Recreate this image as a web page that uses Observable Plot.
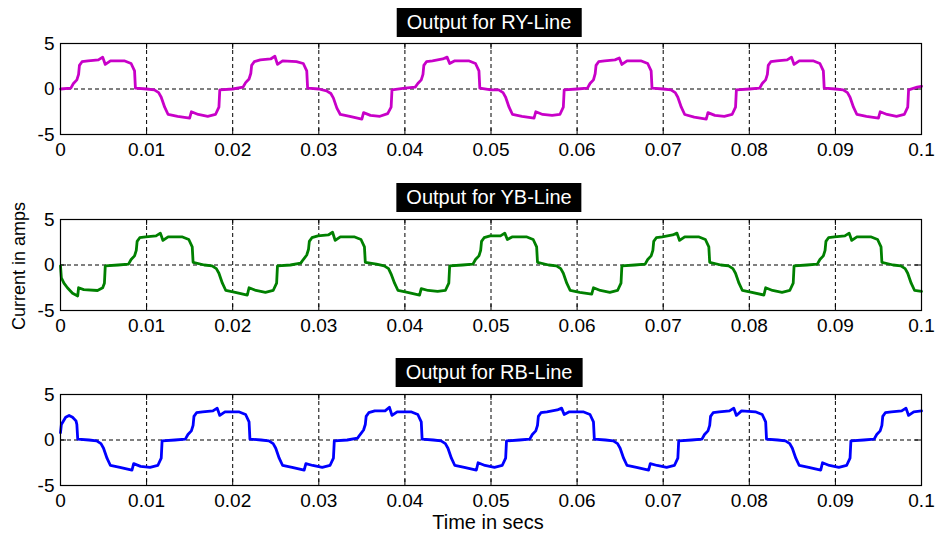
<!DOCTYPE html>
<html>
<head>
<meta charset="utf-8">
<script src="https://cdn.jsdelivr.net/npm/d3@7"></script>
<script src="https://cdn.jsdelivr.net/npm/@observablehq/plot@0.6"></script>
<style>
  html, body { margin: 0; padding: 0; background: #fff; }
  #root { position: relative; width: 936px; height: 536px; overflow: hidden; font-family: "Liberation Sans", Arial, sans-serif; }
  .panel { position: absolute; left: 0; }
  .ttl { position: absolute; background: #000; color: #fff; font-size: 20px; height: 29px; line-height: 29px; padding: 0 10px; transform: translateX(-50%); white-space: nowrap; }
  .xlab { position: absolute; font-size: 20px; transform: translateX(-50%); white-space: nowrap; color: #000; }
  .ylab { position: absolute; font-size: 18px; white-space: nowrap; color: #000; transform: translate(-50%, -50%) rotate(-90deg); }
</style>
</head>
<body>
<div id="root"></div>
<script>
// ---- data (time in s, current in A) ----
const titles = ["Output for RY-Line", "Output for YB-Line", "Output for RB-Line"];
const colors = ["#c800c8", "#008000", "#0000ff"];
const xTicks = [0, 0.01, 0.02, 0.03, 0.04, 0.05, 0.06, 0.07, 0.08, 0.09, 0.1];
const xTickLabels = ["0", "0.01", "0.02", "0.03", "0.04", "0.05", "0.06", "0.07", "0.08", "0.09", "0.1"];
const yTicks = [-5, 0, 5];
const yTickLabels = ["-5", "0", "5"];
const yLabel = "Current in amps";
const xLabel = "Time in secs";

const ryLine = [
[0,0],[0.0012,0.1],[0.0015,0.6],[0.0019,1.0],[0.0021,1.6],[0.0022,2.6],[0.0025,3.0],[0.0032,3.1],[0.0044,3.2],[0.0049,3.5],[0.0052,2.7],[0.0058,3.1],[0.0074,3.1],[0.0082,2.8],[0.0086,2.0],[0.0087,0.1],[0.0100,0.0],[0.0109,-0.1],[0.0114,-0.4],[0.0117,-0.9],[0.0121,-2.0],[0.0125,-2.8],[0.0136,-3.0],[0.0150,-3.2],[0.0152,-2.5],[0.0160,-2.8],[0.0171,-3.0],[0.0180,-2.8],[0.0184,-2.0],[0.0185,-0.1],
[0.0200,0.0],[0.0212,0.2],[0.0215,0.7],[0.0219,1.1],[0.0221,1.7],[0.0222,2.6],[0.0225,3.0],[0.0232,3.2],[0.0244,3.3],[0.0249,3.6],[0.0252,2.7],[0.0258,3.1],[0.0274,3.0],[0.0282,2.8],[0.0286,2.0],[0.0287,0.1],[0.0300,0.0],[0.0309,-0.2],[0.0314,-0.5],[0.0317,-1.0],[0.0321,-2.1],[0.0325,-2.8],[0.0336,-3.0],[0.0350,-3.3],[0.0352,-2.6],[0.0360,-2.9],[0.0371,-3.0],[0.0380,-2.7],[0.0384,-2.0],[0.0385,-0.1],
[0.0400,0.1],[0.0412,0.2],[0.0415,0.6],[0.0419,1.0],[0.0421,1.6],[0.0422,2.6],[0.0425,3.0],[0.0432,3.1],[0.0444,3.3],[0.0449,3.5],[0.0452,2.8],[0.0458,3.1],[0.0474,3.1],[0.0482,2.8],[0.0486,2.0],[0.0487,0.1],[0.0500,-0.1],[0.0509,-0.1],[0.0514,-0.4],[0.0517,-0.9],[0.0521,-2.0],[0.0525,-2.8],[0.0536,-3.0],[0.0550,-3.2],[0.0552,-2.5],[0.0560,-2.8],[0.0571,-2.9],[0.0580,-2.8],[0.0584,-2.0],[0.0585,-0.1],
[0.0600,0.0],[0.0612,0.1],[0.0615,0.6],[0.0619,1.0],[0.0621,1.7],[0.0622,2.6],[0.0625,3.0],[0.0632,3.1],[0.0644,3.2],[0.0649,3.4],[0.0652,2.7],[0.0658,3.1],[0.0674,3.1],[0.0682,2.8],[0.0686,2.0],[0.0687,0.1],[0.0700,0.0],[0.0709,-0.1],[0.0714,-0.4],[0.0717,-0.9],[0.0721,-2.0],[0.0725,-2.8],[0.0736,-3.1],[0.0750,-3.3],[0.0752,-2.6],[0.0760,-2.9],[0.0771,-3.0],[0.0780,-2.8],[0.0784,-2.0],[0.0785,-0.1],
[0.0800,0.0],[0.0812,0.1],[0.0815,0.6],[0.0819,1.0],[0.0821,1.6],[0.0822,2.6],[0.0825,3.0],[0.0832,3.1],[0.0844,3.2],[0.0849,3.5],[0.0852,2.7],[0.0858,3.1],[0.0874,3.1],[0.0882,2.8],[0.0886,2.0],[0.0887,0.1],[0.0900,0.0],[0.0909,-0.1],[0.0914,-0.4],[0.0917,-0.9],[0.0921,-2.0],[0.0925,-2.8],[0.0936,-3.0],[0.0950,-3.2],[0.0952,-2.5],[0.0960,-2.8],[0.0971,-3.0],[0.0980,-2.8],[0.0984,-2.0],[0.0985,-0.1],[0.0995,0.2],[0.1000,0.3]
];

const ybLine = [
[0,-0.1],[0.0001,-1.4],[0.0004,-2.0],[0.0008,-2.5],[0.0014,-3.1],[0.0020,-3.4],[0.0021,-2.5],[0.0027,-2.7],[0.0043,-2.8],[0.0049,-2.5],[0.0051,-2.0],[0.0052,-0.1],[0.0067,0.0],[0.0079,0.1],[0.0082,0.6],[0.0086,1.0],[0.0088,1.6],[0.0089,2.6],[0.0092,3.0],[0.0099,3.1],[0.0111,3.2],[0.0116,3.5],[0.0119,2.7],[0.0125,3.1],[0.0141,3.1],[0.0149,2.8],[0.0153,2.0],[0.0154,0.3],[0.0167,0.0],[0.0176,-0.1],[0.0181,-0.4],[0.0184,-0.9],[0.0188,-2.0],[0.0192,-2.8],
[0.0203,-3.0],[0.0217,-3.3],[0.0219,-2.5],[0.0227,-2.8],[0.0238,-3.0],[0.0247,-2.8],[0.0251,-2.0],[0.0252,-0.1],[0.0267,0.0],[0.0279,0.2],[0.0282,0.6],[0.0286,1.1],[0.0288,1.7],[0.0289,2.6],[0.0292,3.0],[0.0299,3.2],[0.0311,3.3],[0.0316,3.6],[0.0319,2.7],[0.0325,3.1],[0.0341,3.1],[0.0349,2.8],[0.0353,2.0],[0.0354,0.3],[0.0367,0.1],[0.0376,-0.1],[0.0381,-0.4],[0.0384,-1.0],[0.0388,-2.0],[0.0392,-2.8],
[0.0403,-3.0],[0.0417,-3.3],[0.0419,-2.6],[0.0427,-2.8],[0.0438,-2.9],[0.0447,-2.8],[0.0451,-2.0],[0.0452,-0.1],[0.0467,0.0],[0.0479,0.1],[0.0482,0.6],[0.0486,1.0],[0.0488,1.6],[0.0489,2.6],[0.0492,3.0],[0.0499,3.2],[0.0511,3.2],[0.0516,3.5],[0.0519,2.8],[0.0525,3.1],[0.0541,3.1],[0.0549,2.8],[0.0553,2.0],[0.0554,0.3],[0.0567,0.0],[0.0576,-0.1],[0.0581,-0.4],[0.0584,-0.9],[0.0588,-2.0],[0.0592,-2.8],
[0.0603,-3.0],[0.0617,-3.2],[0.0619,-2.5],[0.0627,-2.8],[0.0638,-3.0],[0.0647,-2.8],[0.0651,-2.0],[0.0652,-0.1],[0.0667,0.0],[0.0679,0.1],[0.0682,0.6],[0.0686,1.0],[0.0688,1.6],[0.0689,2.6],[0.0692,3.0],[0.0699,3.1],[0.0711,3.3],[0.0716,3.5],[0.0719,2.7],[0.0725,3.1],[0.0741,3.1],[0.0749,2.8],[0.0753,2.0],[0.0754,0.3],[0.0767,0.0],[0.0776,-0.1],[0.0781,-0.4],[0.0784,-0.9],[0.0788,-2.0],[0.0792,-2.8],
[0.0803,-3.0],[0.0817,-3.3],[0.0819,-2.5],[0.0827,-2.8],[0.0838,-3.0],[0.0847,-2.8],[0.0851,-2.0],[0.0852,-0.1],[0.0867,0.0],[0.0879,0.1],[0.0882,0.6],[0.0886,1.0],[0.0888,1.6],[0.0889,2.6],[0.0892,3.0],[0.0899,3.1],[0.0911,3.2],[0.0916,3.5],[0.0919,2.7],[0.0925,3.1],[0.0941,3.1],[0.0949,2.8],[0.0953,2.0],[0.0954,0.3],[0.0967,0.0],[0.0976,-0.1],[0.0981,-0.4],[0.0984,-0.9],[0.0988,-2.0],[0.0992,-2.8],[0.1000,-2.9]
];

const rbLine = [
[0,0.8],[0.0001,1.7],[0.0006,2.5],[0.0010,2.7],[0.0014,2.5],[0.0018,2.1],[0.0019,1.7],[0.0020,0.1],[0.0033,0.0],[0.0042,-0.1],[0.0047,-0.4],[0.0050,-0.9],[0.0054,-2.0],[0.0058,-2.8],[0.0069,-3.0],[0.0083,-3.3],[0.0085,-2.6],[0.0093,-2.9],[0.0104,-3.0],[0.0113,-2.8],[0.0117,-2.0],[0.0118,-0.1],[0.0133,0.0],[0.0145,0.1],[0.0148,0.6],[0.0152,1.0],[0.0154,1.6],[0.0155,2.6],[0.0158,3.0],[0.0165,3.1],[0.0177,3.2],[0.0182,3.5],[0.0185,2.7],[0.0191,3.1],
[0.0207,3.1],[0.0215,2.8],[0.0219,2.0],[0.0220,0.1],[0.0233,0.0],[0.0242,-0.1],[0.0247,-0.4],[0.0250,-0.9],[0.0254,-2.0],[0.0258,-2.8],[0.0269,-3.0],[0.0283,-3.3],[0.0285,-2.6],[0.0293,-2.8],[0.0304,-3.0],[0.0313,-2.8],[0.0317,-2.0],[0.0318,-0.1],[0.0333,0.0],[0.0345,0.2],[0.0348,0.6],[0.0352,1.1],[0.0354,1.7],[0.0355,2.6],[0.0358,3.0],[0.0365,3.2],[0.0377,3.2],[0.0382,3.6],[0.0385,2.7],[0.0391,3.1],
[0.0407,3.1],[0.0415,2.8],[0.0419,2.0],[0.0420,0.1],[0.0433,0.0],[0.0442,-0.1],[0.0447,-0.4],[0.0450,-0.9],[0.0454,-2.0],[0.0458,-2.8],[0.0469,-3.0],[0.0483,-3.3],[0.0485,-2.5],[0.0493,-2.8],[0.0504,-3.0],[0.0513,-2.8],[0.0517,-2.0],[0.0518,-0.1],[0.0533,0.0],[0.0545,0.1],[0.0548,0.6],[0.0552,1.0],[0.0554,1.6],[0.0555,2.6],[0.0558,3.0],[0.0565,3.1],[0.0577,3.3],[0.0582,3.5],[0.0585,2.8],[0.0591,3.1],
[0.0607,3.1],[0.0615,2.8],[0.0619,2.0],[0.0620,0.1],[0.0633,0.0],[0.0642,-0.1],[0.0647,-0.4],[0.0650,-0.9],[0.0654,-2.0],[0.0658,-2.8],[0.0669,-3.0],[0.0683,-3.3],[0.0685,-2.6],[0.0693,-2.8],[0.0704,-3.0],[0.0713,-2.8],[0.0717,-2.0],[0.0718,-0.1],[0.0733,0.0],[0.0745,0.1],[0.0748,0.6],[0.0752,1.0],[0.0754,1.6],[0.0755,2.6],[0.0758,3.0],[0.0765,3.1],[0.0777,3.2],[0.0782,3.5],[0.0785,2.7],[0.0791,3.2],
[0.0807,3.1],[0.0815,2.8],[0.0819,2.0],[0.0820,0.1],[0.0833,0.0],[0.0842,-0.1],[0.0847,-0.4],[0.0850,-0.9],[0.0854,-2.0],[0.0858,-2.8],[0.0869,-3.0],[0.0883,-3.3],[0.0885,-2.5],[0.0893,-2.8],[0.0904,-3.0],[0.0913,-2.8],[0.0917,-2.0],[0.0918,-0.1],[0.0933,0.0],[0.0945,0.1],[0.0948,0.6],[0.0952,1.0],[0.0954,1.6],[0.0955,2.6],[0.0958,3.0],[0.0965,3.1],[0.0977,3.2],[0.0982,3.5],[0.0985,2.7],[0.0991,3.1],[0.1000,3.2]
];

const series = [ryLine, ybLine, rbLine];

// ---- layout ----
const root = document.getElementById("root");
const panelTops = [0, 176, 351];
const titleTops = [8, 183, 358];
const M = { top: 43, bottom: 32, left: 60, right: 15 };
const innerH = 91;
const font = "'Liberation Sans', Arial, sans-serif";

series.forEach((pts, i) => {
  const data = pts.map(([t, v]) => ({ t, v }));
  const chart = Plot.plot({
    width: 936,
    height: M.top + innerH + M.bottom,
    marginTop: M.top, marginBottom: M.bottom, marginLeft: M.left, marginRight: M.right,
    style: { fontFamily: font, background: "transparent", color: "#000", overflow: "visible" },
    x: { domain: [0, 0.1], ticks: xTicks, tickFormat: (d, k) => xTickLabels[xTicks.indexOf(d)] },
    y: { domain: [-5, 5], ticks: yTicks, tickFormat: d => yTickLabels[yTicks.indexOf(d)] },
    marks: [
      Plot.ruleX(xTicks.slice(1, -1), { stroke: "#000", strokeWidth: 1, strokeDasharray: "4,3" }),
      Plot.ruleY([0], { stroke: "#000", strokeWidth: 1, strokeDasharray: "4,3" }),
      Plot.ruleX(xTicks, { y1: -5, y2: -4.35, stroke: "#000" }),
      Plot.ruleX(xTicks, { y1: 5, y2: 4.35, stroke: "#000" }),
      Plot.ruleY(yTicks, { x1: 0, x2: 0.0007, stroke: "#000" }),
      Plot.ruleY(yTicks, { x1: 0.1, x2: 0.0993, stroke: "#000" }),
      Plot.line(data, { x: "t", y: "v", stroke: colors[i], strokeWidth: 2.8, strokeLinejoin: "round" }),
      Plot.frame({ stroke: "#000", strokeWidth: 1.2 }),
      Plot.axisX({ ticks: xTicks, tickFormat: d => xTickLabels[xTicks.indexOf(d)], tickSize: 0, tickPadding: 8, fontSize: 19, label: null }),
      Plot.axisY({ ticks: yTicks, tickFormat: d => yTickLabels[yTicks.indexOf(d)], tickSize: 0, tickPadding: 6, fontSize: 19, label: null })
    ]
  });
  const wrap = document.createElement("div");
  wrap.className = "panel";
  wrap.style.top = panelTops[i] + "px";
  wrap.appendChild(chart);
  root.appendChild(wrap);

  const tt = document.createElement("div");
  tt.className = "ttl";
  tt.textContent = titles[i];
  tt.style.left = "489px";
  tt.style.top = titleTops[i] + "px";
  root.appendChild(tt);
});

const xl = document.createElement("div");
xl.className = "xlab";
xl.textContent = xLabel;
xl.style.left = "488px";
xl.style.top = "511px";
root.appendChild(xl);

const yl = document.createElement("div");
yl.className = "ylab";
yl.textContent = yLabel;
yl.style.left = "19px";
yl.style.top = "266px";
root.appendChild(yl);
</script>
</body>
</html>
